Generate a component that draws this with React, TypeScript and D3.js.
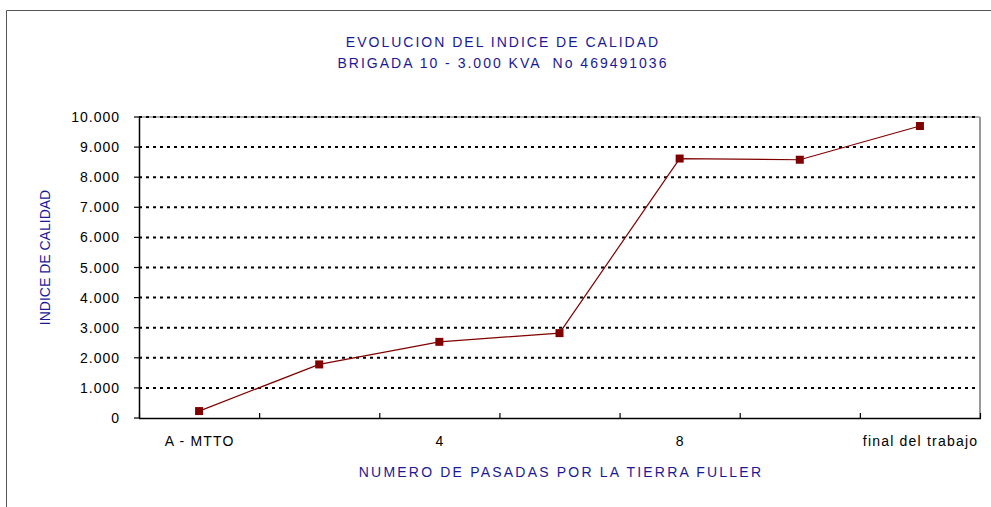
import React from "react";
import * as d3 from "d3";

const categories = ["A - MTTO", "2", "4", "6", "8", "10", "final del trabajo"];
const shownLabels = ["A - MTTO", "4", "8", "final del trabajo"];
const values = [230, 1780, 2530, 2820, 8620, 8580, 9700];
const yTicks = [0, 1000, 2000, 3000, 4000, 5000, 6000, 7000, 8000, 9000, 10000];
const titleLines = ["EVOLUCION DEL INDICE DE CALIDAD", "BRIGADA 10 - 3.000 KVA  No 469491036"];
const yTitle = "INDICE DE CALIDAD";
const xTitle = "NUMERO DE PASADAS POR LA TIERRA FULLER";

const W = 991;
const H = 507;
const plot = { left: 139, right: 980, top: 117, bottom: 418 };
const FONT = "'Liberation Sans', Arial, Helvetica, sans-serif";
const BLUE = "#1a1a96";
const RED = "#800000";

const locale = d3.formatLocale({ decimal: ",", thousands: ".", grouping: [3], currency: ["", ""] });
const fmt = locale.format(",d");

export default function App() {
  const x = d3.scaleBand<string>().domain(categories).range([plot.left, plot.right]).padding(0);
  const y = d3.scaleLinear().domain([0, 10000]).range([plot.bottom, plot.top]);
  const cx = (c: string) => (x(c) as number) + x.bandwidth() / 2;
  const line = d3
    .line<number>()
    .x((_, i) => cx(categories[i]))
    .y((v) => y(v));
  const boundaries = categories.map((c) => x(c) as number).concat([plot.right]);

  return (
    <svg width={W} height={H} style={{ position: "absolute", left: 0, top: 0, background: "#fff" }}>
      <rect x={0} y={0} width={W} height={H} fill="#fff" />
      {/* outer frame */}
      <line x1={6.5} y1={10.5} x2={W} y2={10.5} stroke="#555" strokeWidth={1} />
      <line x1={6.5} y1={10.5} x2={6.5} y2={H} stroke="#555" strokeWidth={1} />

      {/* titles */}
      {titleLines.map((t, i) => (
        <text
          key={i}
          x={503}
          y={47 + i * 21}
          textAnchor="middle"
          fontFamily={FONT}
          fontSize={14}
          letterSpacing={2}
          fill={BLUE}
          style={{ whiteSpace: "pre" }}
        >
          {t}
        </text>
      ))}

      {/* plot border (gray top/right) */}
      <line x1={plot.left} y1={plot.top} x2={plot.right} y2={plot.top} stroke="#999" strokeWidth={1.5} />
      <line x1={plot.right} y1={plot.top} x2={plot.right} y2={plot.bottom} stroke="#999" strokeWidth={2} />

      {/* gridlines */}
      {yTicks
        .filter((t) => t > 0)
        .map((t) => (
          <line
            key={"g" + t}
            x1={plot.left}
            x2={plot.right - 3}
            y1={y(t)}
            y2={y(t)}
            stroke="#000"
            strokeWidth={2}
            strokeDasharray="3,4"
          />
        ))}

      {/* y axis */}
      <line x1={plot.left + 0.5} x2={plot.left + 0.5} y1={plot.top} y2={plot.bottom} stroke="#000" strokeWidth={1.5} />
      {yTicks.map((t) => (
        <g key={"yt" + t}>
          <line x1={plot.left - 5} x2={plot.left} y1={y(t)} y2={y(t)} stroke="#000" strokeWidth={1.2} />
          <text
            x={120}
            y={y(t) + 5}
            textAnchor="end"
            fontFamily={FONT}
            fontSize={14}
            letterSpacing={1}
            fill="#000"
          >
            {fmt(t)}
          </text>
        </g>
      ))}

      {/* x axis */}
      <line x1={plot.left} x2={plot.right + 1} y1={plot.bottom + 0.5} y2={plot.bottom + 0.5} stroke="#000" strokeWidth={1.5} />
      {boundaries.map((b, i) => (
        <line key={"xt" + i} x1={b + 0.5} x2={b + 0.5} y1={plot.bottom} y2={plot.bottom - 5} stroke="#000" strokeWidth={1.2} />
      ))}
      {categories.map((c) =>
        shownLabels.includes(c) ? (
          <text
            key={"xl" + c}
            x={cx(c) + 0.6}
            y={446}
            textAnchor="middle"
            fontFamily={FONT}
            fontSize={14}
            letterSpacing={1.2}
            fill="#000"
          >
            {c}
          </text>
        ) : null
      )}

      {/* axis titles */}
      <text
        x={561}
        y={477}
        textAnchor="middle"
        fontFamily={FONT}
        fontSize={14}
        letterSpacing={2.2}
        fill={BLUE}
      >
        {xTitle}
      </text>
      <text
        transform={`translate(50,257.5) rotate(-90)`}
        textAnchor="middle"
        fontFamily={FONT}
        fontSize={14}
        fill={BLUE}
      >
        {yTitle}
      </text>

      {/* series */}
      <path d={line(values) || ""} fill="none" stroke={RED} strokeWidth={1.2} />
      {values.map((v, i) => (
        <rect key={"m" + i} x={cx(categories[i]) - 4} y={y(v) - 4} width={8} height={8} fill={RED} />
      ))}
    </svg>
  );
}
